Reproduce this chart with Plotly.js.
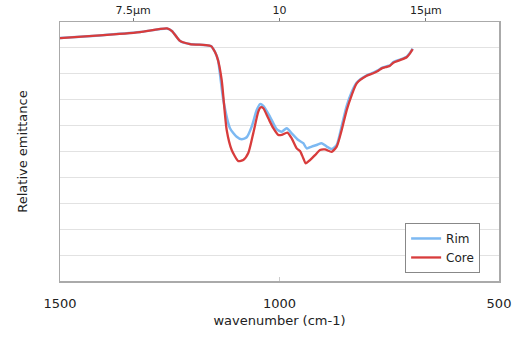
<!DOCTYPE html>
<html>
<head>
<meta charset="utf-8">
<script src="https://cdn.plot.ly/plotly-3.0.1.min.js"></script>
<style>html,body{margin:0;padding:0;background:#fff;}#chart{width:518px;height:339px;}</style>
</head>
<body>
<div id="chart"></div>
<script>
// Shared start of both spectra (wavenumber cm-1, relative emittance)
var commonWn = [1500, 1408.9, 1317.8, 1256.3, 1244.9, 1226.7, 1203.9, 1169.7, 1156.0, 1146.9, 1140.1];
var commonY  = [9.38, 9.48, 9.61, 9.75, 9.65, 9.27, 9.15, 9.11, 9.07, 8.84, 8.53];

var rimWn = [1128.0, 1112.8, 1097.5, 1086.1, 1074.7, 1063.3, 1051.9, 1044.4, 1036.9, 1021.6, 1006.4, 995.0, 983.6, 972.2, 957.2, 945.8, 938.0, 926.7, 915.3, 903.9, 892.5, 881.1, 869.7, 858.3, 846.9, 835.5, 824.1, 801.4, 786.3, 774.9, 767.2, 755.8, 748.3, 740.8, 725.5, 710.3, 702.7, 696.6];
var rimY  = [6.99, 5.90, 5.57, 5.47, 5.55, 5.96, 6.60, 6.83, 6.76, 6.34, 5.86, 5.76, 5.90, 5.70, 5.44, 5.32, 5.12, 5.19, 5.25, 5.32, 5.19, 5.10, 5.25, 5.98, 6.76, 7.30, 7.66, 7.94, 8.04, 8.14, 8.23, 8.29, 8.33, 8.45, 8.55, 8.66, 8.81, 8.97];

var coreWn = [1131.7, 1120.3, 1108.9, 1093.8, 1082.5, 1071.1, 1059.7, 1048.3, 1042.8, 1036.9, 1025.5, 1014.1, 1002.7, 995.0, 982.2, 972.2, 960.8, 953.3, 945.8, 940.3, 930.5, 919.1, 907.7, 896.4, 881.1, 869.7, 858.3, 846.9, 835.5, 824.1, 801.4, 786.3, 774.9, 767.2, 755.8, 748.3, 740.8, 725.5, 710.3, 702.7, 696.6];
var coreY  = [7.76, 5.83, 5.06, 4.63, 4.67, 4.94, 5.71, 6.54, 6.71, 6.67, 6.28, 5.90, 5.64, 5.64, 5.73, 5.51, 5.12, 5.02, 4.74, 4.54, 4.67, 4.86, 5.06, 5.08, 4.99, 5.19, 5.83, 6.60, 7.18, 7.63, 7.92, 8.02, 8.12, 8.21, 8.27, 8.31, 8.43, 8.53, 8.64, 8.79, 8.95];

var bottomTicks = [1500, 1000, 500];
var topTickWn = [1333.33, 1000, 666.67];
var topTickText = ['7.5µm', '10', '15µm'];

var font = 'DejaVu Sans, sans-serif';

var traces = [
  {x: commonWn.concat(rimWn), y: commonY.concat(rimY), name: 'Rim', mode: 'lines',
   line: {color: '#7db9f2', width: 2.5, shape: 'spline', smoothing: 0.6}},
  {x: commonWn.concat(coreWn), y: commonY.concat(coreY), name: 'Core', mode: 'lines',
   line: {color: '#d83c3c', width: 2.3, shape: 'spline', smoothing: 0.6}},
  {x: [1500, 500], y: [null, null], xaxis: 'x2', showlegend: false, hoverinfo: 'skip', mode: 'lines'}
];

var layout = {
  width: 518, height: 339,
  margin: {l: 60, r: 19, t: 22, b: 58},
  paper_bgcolor: '#fff', plot_bgcolor: '#fff',
  font: {family: font, size: 13, color: '#222'},
  showlegend: true,
  legend: {x: 0.957, y: 0.031, xanchor: 'right', yanchor: 'bottom',
           bordercolor: '#888', borderwidth: 1, bgcolor: '#fff', itemwidth: 30,
           font: {family: font, size: 12, color: '#222'}, tracegroupgap: 2},
  xaxis: {range: [1500, 500], tickvals: bottomTicks, showgrid: false, zeroline: false,
          showline: true, linecolor: '#aaa', linewidth: 1.5, mirror: true,
          ticks: 'inside', ticklen: 4, tickcolor: '#ccc',
          ticklabelstandoff: 10,
          tickfont: {family: font, size: 13, color: '#222'},
          title: {text: 'wavenumber (cm-1)', font: {family: font, size: 13, color: '#222'}, standoff: 6}},
  xaxis2: {range: [1500, 500], overlaying: 'x', side: 'top', anchor: 'y',
           tickvals: topTickWn, ticktext: topTickText, showgrid: false, zeroline: false,
           showline: false, ticks: 'outside', ticklen: 3, tickcolor: '#777',
           tickfont: {family: font, size: 11, color: '#222'}},
  yaxis: {range: [0, 10], dtick: 1, showticklabels: false, showgrid: true, gridcolor: '#e2e2e2',
          gridwidth: 1, zeroline: false, showline: true, linecolor: '#aaa', linewidth: 1.5, mirror: true,
          ticks: '',
          title: {text: 'Relative emittance', font: {family: font, size: 13, color: '#222'}, standoff: 28}}
};

Plotly.newPlot('chart', traces, layout, {displayModeBar: false, staticPlot: true});
</script>
</body>
</html>
